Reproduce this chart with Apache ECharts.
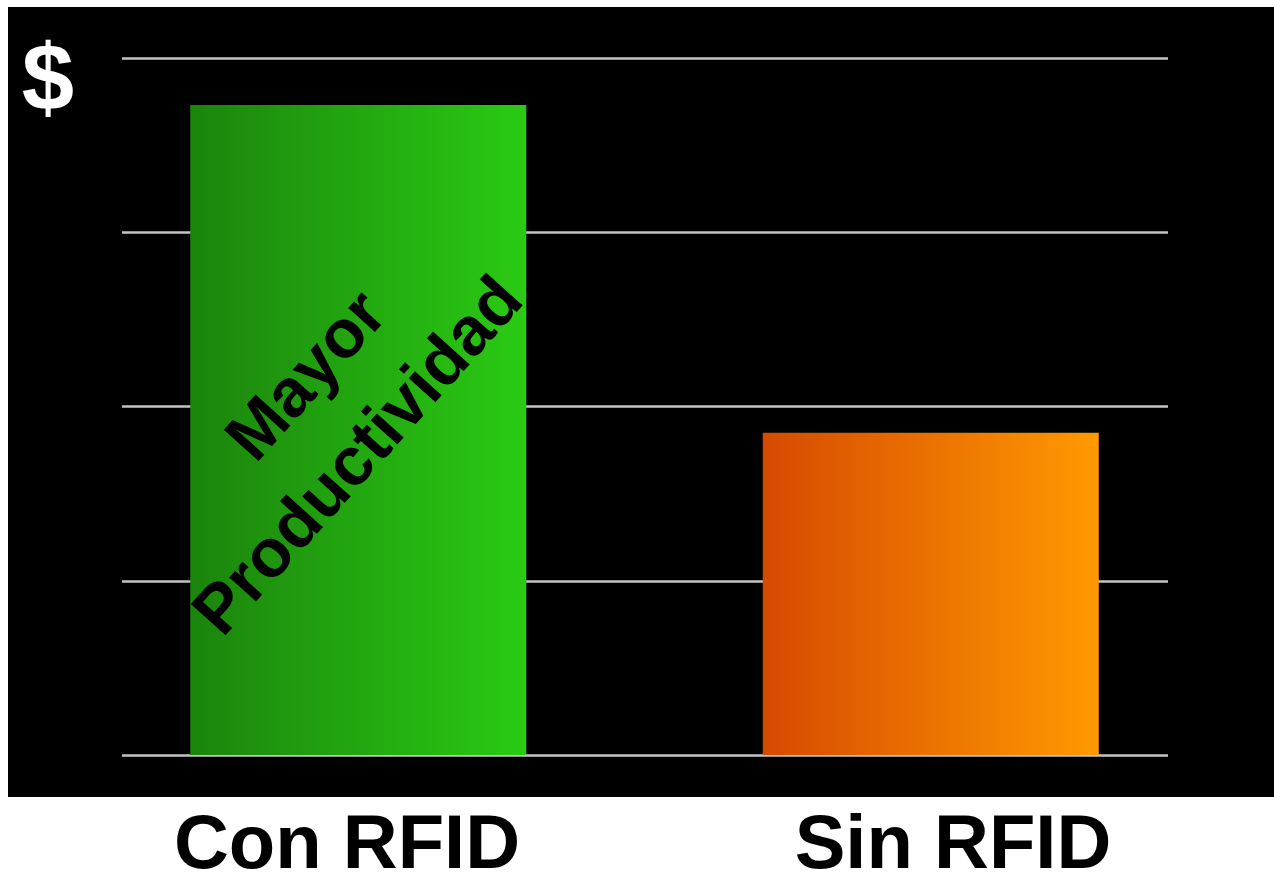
<!DOCTYPE html>
<html>
<head>
<meta charset="utf-8">
<script src="https://cdn.jsdelivr.net/npm/echarts@6/dist/echarts.min.js"></script>
<style>
  html, body { margin: 0; padding: 0; background: #fff; }
  #chart { width: 1274px; height: 879px; }
</style>
</head>
<body>
<div id="chart"></div>
<script>
// data
const categories = ['Con RFID', 'Sin RFID'];
const values = [3.73, 1.85];
const yTicks = [0, 1, 2, 3, 4];
const noteLines = ['Mayor', 'Productividad'];

const gradients = [
  ['#1b840c', '#2acb14'],
  ['#d64a00', '#ff9a00']
];

const chart = echarts.init(document.getElementById('chart'));

const option = {
  backgroundColor: '#fff',
  animation: false,
  graphic: [
    {
      type: 'rect', z: -10, silent: true,
      shape: { x: 8, y: 7, width: 1266, height: 790 },
      style: { fill: '#000' }
    },
    {
      type: 'text', z: 10, x: 48, y: 84,
      style: {
        text: '$', fill: '#fff', align: 'center', verticalAlign: 'middle',
        font: 'bold 94px "Liberation Sans", Arial, sans-serif'
      }
    },
    {
      // slanted note over the first bar
      type: 'text', z: 10, x: 326, y: 427, rotation: 48 * Math.PI / 180,
      style: {
        text: '{m|' + noteLines[0] + '}\n' + noteLines[1],
        fill: '#000', align: 'center', verticalAlign: 'middle',
        font: 'bold 68px "Liberation Sans", Arial, sans-serif', lineHeight: 92,
        rich: {
          m: {
            fill: '#000', padding: [0, 0, 0, 50], lineHeight: 92,
            font: 'bold 68px "Liberation Sans", Arial, sans-serif'
          }
        }
      }
    }
  ],
  grid: [
    // gridlines
    { left: 122, right: 106, top: 58, bottom: 124, outerBoundsMode: 'none' },
    // bars
    { left: 72, right: 57, top: 58, bottom: 124, outerBoundsMode: 'none' },
    // category labels
    { left: 44, right: 18, top: 58, bottom: 124, outerBoundsMode: 'none' }
  ],
  xAxis: [
    { gridIndex: 0, type: 'category', data: categories, show: false },
    { gridIndex: 1, type: 'category', data: categories, show: false },
    {
      gridIndex: 2, type: 'category', data: categories,
      axisLine: { show: false }, axisTick: { show: false },
      axisLabel: {
        color: '#000', fontSize: 76, fontWeight: 'bold', lineHeight: 76,
        fontFamily: '"Liberation Sans", Arial, sans-serif', margin: 54
      }
    }
  ],
  yAxis: [
    {
      gridIndex: 0, type: 'value', min: yTicks[0], max: yTicks[yTicks.length - 1], interval: 1,
      axisLine: { show: false }, axisTick: { show: false }, axisLabel: { show: false },
      splitLine: { show: true, lineStyle: { color: '#c4c4c4', width: 2.5 } }
    },
    {
      gridIndex: 1, type: 'value', min: yTicks[0], max: yTicks[yTicks.length - 1], interval: 1,
      show: false, splitLine: { show: false }
    },
    {
      gridIndex: 2, type: 'value', min: yTicks[0], max: yTicks[yTicks.length - 1],
      show: false, splitLine: { show: false }
    }
  ],
  series: [{
    type: 'bar',
    xAxisIndex: 1,
    yAxisIndex: 1,
    barWidth: 336,
    data: values.map((v, i) => ({
      value: v,
      itemStyle: {
        color: new echarts.graphic.LinearGradient(0, 0, 1, 0, [
          { offset: 0, color: gradients[i][0] },
          { offset: 1, color: gradients[i][1] }
        ])
      }
    }))
  }]
};

chart.setOption(option);
</script>
</body>
</html>
